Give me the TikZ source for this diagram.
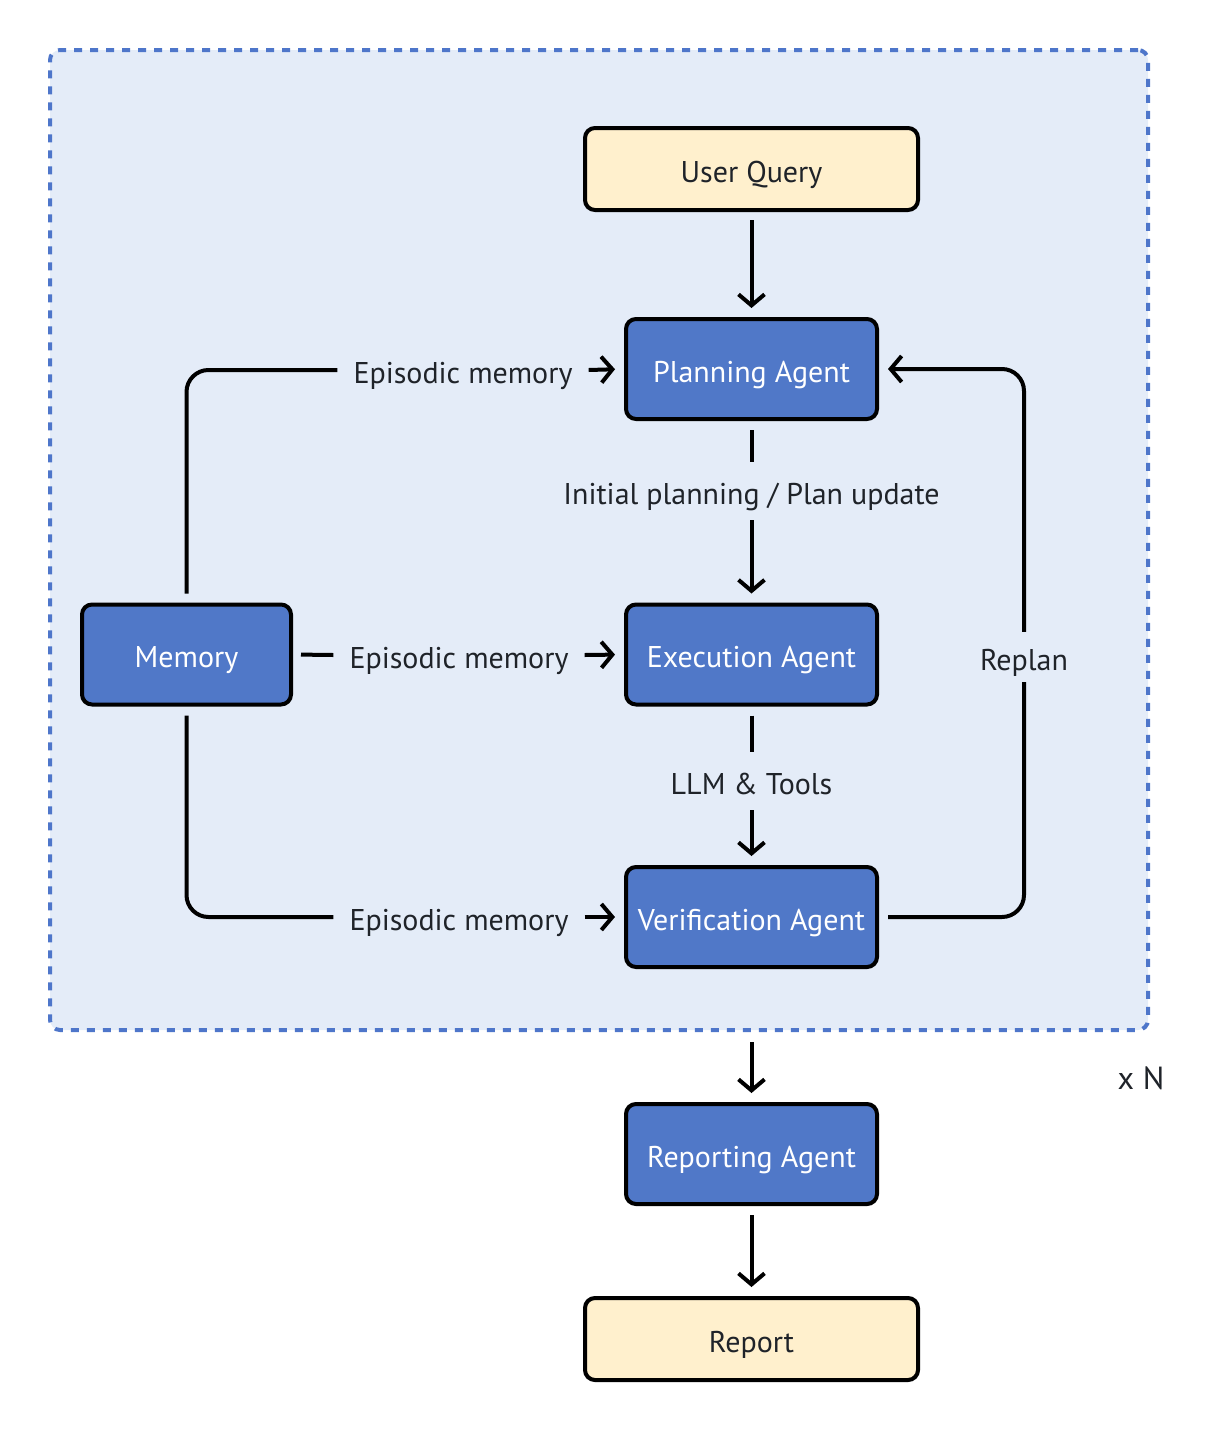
\documentclass[tikz,border=0pt]{standalone}
\usepackage{fontspec}
\setmainfont{PT Sans}
\usetikzlibrary{arrows.meta}

\definecolor{panel}{HTML}{E4ECF8}
\definecolor{panelborder}{HTML}{4E76CA}
\definecolor{agentblue}{HTML}{5078C8}
\definecolor{ioyellow}{HTML}{FFF0CD}
\definecolor{ink}{HTML}{1F2329}

\tikzset{
  txt/.style={font=\fontsize{30}{36}\selectfont, text height=29pt, text depth=3pt},
  boxbase/.style={draw=black, line width=4pt, rounded corners=10pt,
    minimum width=251pt, minimum height=100pt, inner sep=0pt, txt},
  agent/.style={boxbase, fill=agentblue, text=white},
  iobox/.style={boxbase, fill=ioyellow, text=ink, minimum width=333pt, minimum height=82pt},
  loopbox/.style={draw=panelborder, fill=panel, line width=4pt,
    dash pattern=on 8pt off 8pt, rounded corners=10pt, inner sep=0pt},
  link/.style={draw=black, line width=4pt, rounded corners=22pt},
  tip/.style={-{Straight Barb[length=11pt,width=26pt]}},
  gaplabel/.style={text=ink, inner xsep=16pt, inner ysep=0pt, txt},
  vlabel/.style={text=ink, inner sep=0pt, minimum height=58pt, txt},
}

\begin{document}
\begin{tikzpicture}[x=1pt,y=-1pt]
  \useasboundingbox (0,0) rectangle (1216,1432);

  % iteration panel
  \node[loopbox, minimum width=1098pt, minimum height=980pt] (loop) at (599,540) {};

  % boxes
  \node[iobox] (query) at (751.5,169) {User Query};
  \node[agent] (plan) at (751.5,369) {Planning Agent};
  \node[agent] (exec) at (751.5,654.5) {Execution Agent};
  \node[agent] (verif) at (751.5,917) {Verification Agent};
  \node[agent, minimum width=209pt] (mem) at (186.5,654.5) {Memory};
  \node[agent] (rep) at (751.5,1154) {Reporting Agent};
  \node[iobox] (report) at (751.5,1339) {Report};

  % labels that split connectors
  \node[gaplabel] (em1) at (463,370) {Episodic memory};
  \node[gaplabel] (em2) at (459,655) {Episodic memory};
  \node[gaplabel] (em3) at (459,917) {Episodic memory};
  \node[vlabel] (plabel) at (751.5,491) {Initial planning / Plan update};
  \node[vlabel] (tlabel) at (751.5,781) {LLM \& Tools};
  \node[vlabel, minimum height=50pt] (rlabel) at (1024,657) {Replan};
  \node[text=ink, inner sep=0pt, font=\fontsize{32}{38}\selectfont,
    text height=30pt, text depth=3pt] (times) at (1141,1076) {x N};

  % main flow
  \draw[link, tip, shorten <=8pt, shorten >=9pt] (query) -- (plan);
  \draw[link, shorten <=9pt] (plan) -- (plabel);
  \draw[link, tip, shorten >=9pt] (plabel) -- (exec);
  \draw[link, shorten <=9pt] (exec) -- (tlabel);
  \draw[link, tip, shorten >=9pt] (tlabel) -- (verif);
  \draw[link, tip, shorten <=10pt, shorten >=9pt] (loop.south -| rep.north) -- (rep.north);
  \draw[link, tip, shorten <=9pt, shorten >=9pt] (rep) -- (report);

  % memory feeds
  \draw[link, shorten <=9pt] (mem.north) |- (em1.west);
  \draw[link, tip, shorten >=9pt] (em1.east) -- (plan.west);
  \draw[link, shorten <=8pt] (mem.east) -- (em2.west);
  \draw[link, tip, shorten >=9pt] (em2.east) -- (exec.west);
  \draw[link, shorten <=9pt] (mem.south) |- (em3.west);
  \draw[link, tip, shorten >=9pt] (em3.east) -- (verif.west);

  % replanning loop
  \draw[link, shorten <=9pt] (verif.east) -| (rlabel.south);
  \draw[link, tip, shorten >=9pt] (rlabel.north) |- (plan.east);
\end{tikzpicture}
\end{document}
